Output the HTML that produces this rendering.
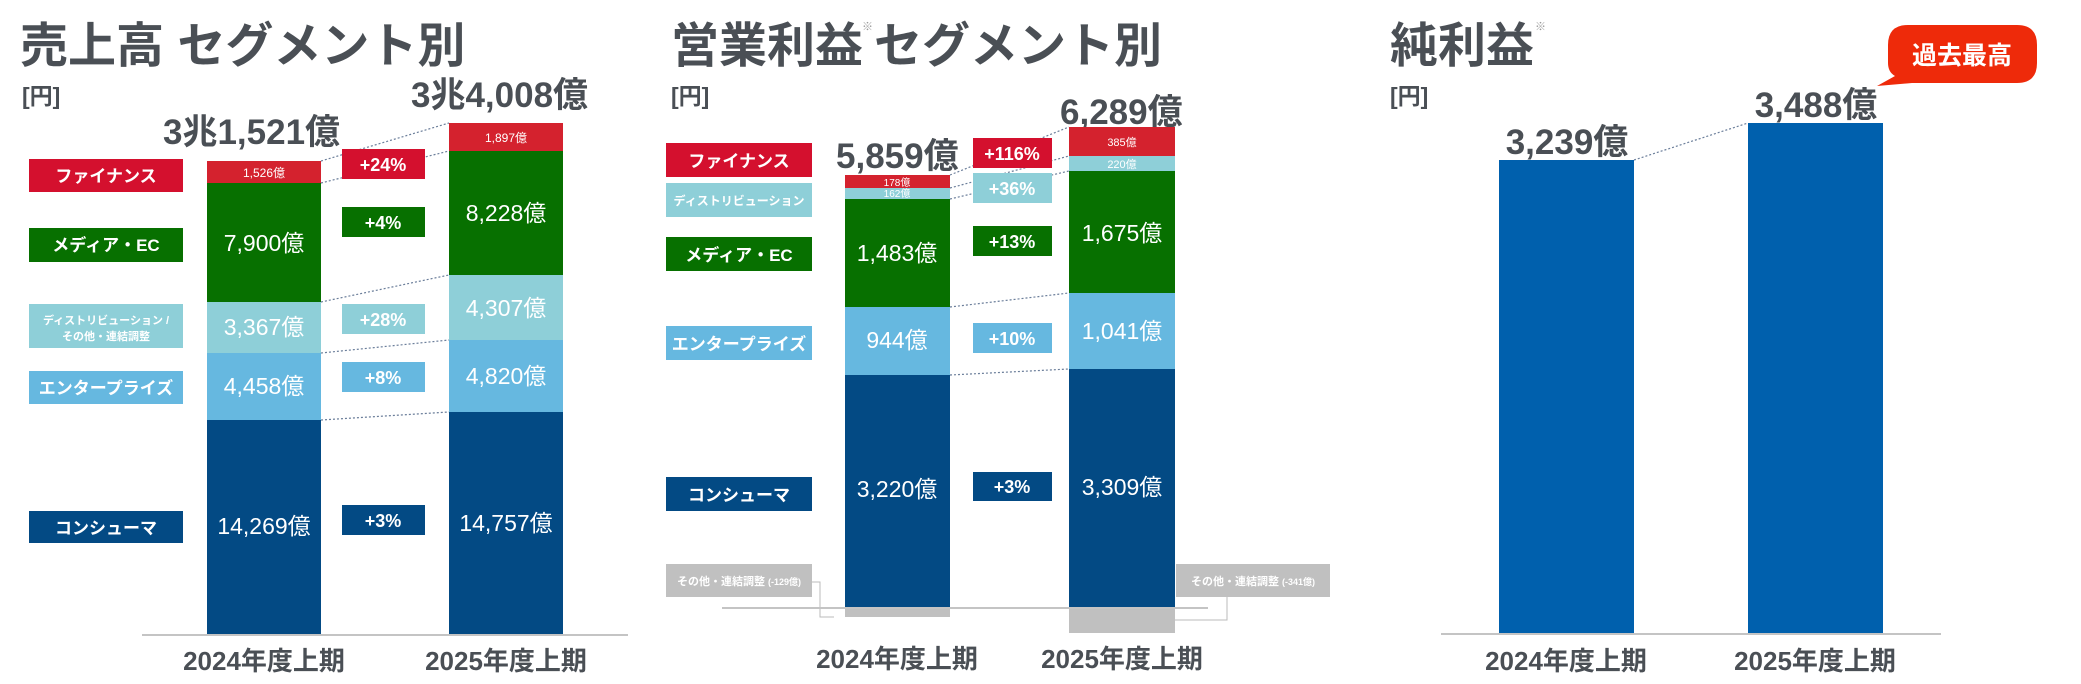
<!DOCTYPE html>
<html><head><meta charset="utf-8"><style>
html,body{margin:0;padding:0;background:#fff;}
svg{display:block;}
text{font-family:"Liberation Sans","Noto Sans CJK JP",sans-serif;}
.t{fill:#4a4f55;font-weight:bold;}
.w{fill:#fff;}
.b{font-weight:bold;}
</style></head><body>
<svg width="2081" height="684" viewBox="0 0 2081 684" xmlns="http://www.w3.org/2000/svg">
<g stroke="#6b7e9a" stroke-width="1.2" stroke-dasharray="2,2" fill="none">
<line x1="321" y1="161" x2="449" y2="123"/><line x1="321" y1="183" x2="449" y2="151"/>
<line x1="321" y1="302" x2="449" y2="275"/><line x1="321" y1="353" x2="449" y2="340"/>
<line x1="321" y1="420" x2="449" y2="412"/>
<line x1="950" y1="175" x2="1069" y2="127"/><line x1="950" y1="188" x2="1069" y2="156"/>
<line x1="950" y1="199" x2="1069" y2="171"/><line x1="950" y1="307" x2="1069" y2="293"/>
<line x1="950" y1="375" x2="1069" y2="369"/>
<line x1="1634" y1="160" x2="1748" y2="123"/>
</g>
<!-- Panel 1 -->
<text x="20" y="62" class="t" font-size="48">売上高 セグメント別</text>
<text x="22" y="104" class="t" font-size="23" font-weight="normal">[円]</text>
<text x="163" y="144" class="t" font-size="35">3兆1,521億</text>
<text x="411" y="107" class="t" font-size="35">3兆4,008億</text>
<rect x="29" y="159" width="154" height="33" fill="#d4102e"/>
<text x="106" y="182" class="w b" font-size="17" text-anchor="middle">ファイナンス</text>
<rect x="29" y="228" width="154" height="34" fill="#077000"/>
<text x="106" y="251" class="w b" font-size="17" text-anchor="middle">メディア・EC</text>
<rect x="29" y="304" width="154" height="44" fill="#8ecfd8"/>
<text x="106" y="324" class="w b" font-size="11" text-anchor="middle">ディストリビューション /</text>
<text x="106" y="340" class="w b" font-size="11" text-anchor="middle">その他・連結調整</text>
<rect x="29" y="371" width="154" height="33" fill="#66b8e0"/>
<text x="106" y="394" class="w b" font-size="17" text-anchor="middle">エンタープライズ</text>
<rect x="29" y="511" width="154" height="32" fill="#034a84"/>
<text x="106" y="534" class="w b" font-size="17" text-anchor="middle">コンシューマ</text>
<rect x="207" y="161" width="114" height="22" fill="#d4222e"/>
<rect x="207" y="183" width="114" height="119" fill="#077000"/>
<rect x="207" y="302" width="114" height="51" fill="#8ecfd8"/>
<rect x="207" y="353" width="114" height="67" fill="#66b8e0"/>
<rect x="207" y="420" width="114" height="215" fill="#034a84"/>
<text x="264" y="177" class="w" font-size="12" text-anchor="middle">1,526億</text>
<text x="264" y="251" class="w" font-size="23" text-anchor="middle">7,900億</text>
<text x="264" y="335" class="w" font-size="23" text-anchor="middle">3,367億</text>
<text x="264" y="394" class="w" font-size="23" text-anchor="middle">4,458億</text>
<text x="264" y="534" class="w" font-size="23" text-anchor="middle">14,269億</text>
<rect x="449" y="123" width="114" height="28" fill="#d4222e"/>
<rect x="449" y="151" width="114" height="124" fill="#077000"/>
<rect x="449" y="275" width="114" height="65" fill="#8ecfd8"/>
<rect x="449" y="340" width="114" height="72" fill="#66b8e0"/>
<rect x="449" y="412" width="114" height="223" fill="#034a84"/>
<text x="506" y="142" class="w" font-size="12" text-anchor="middle">1,897億</text>
<text x="506" y="221" class="w" font-size="23" text-anchor="middle">8,228億</text>
<text x="506" y="316" class="w" font-size="23" text-anchor="middle">4,307億</text>
<text x="506" y="384" class="w" font-size="23" text-anchor="middle">4,820億</text>
<text x="506" y="531" class="w" font-size="23" text-anchor="middle">14,757億</text>
<rect x="342" y="149" width="83" height="30" fill="#d4102e"/><text x="383" y="171" class="w b" font-size="18" text-anchor="middle">+24%</text>
<rect x="342" y="207" width="83" height="30" fill="#077000"/><text x="383" y="229" class="w b" font-size="18" text-anchor="middle">+4%</text>
<rect x="342" y="304" width="83" height="30" fill="#8ecfd8"/><text x="383" y="326" class="w b" font-size="18" text-anchor="middle">+28%</text>
<rect x="342" y="362" width="83" height="30" fill="#66b8e0"/><text x="383" y="384" class="w b" font-size="18" text-anchor="middle">+8%</text>
<rect x="342" y="505" width="83" height="30" fill="#034a84"/><text x="383" y="527" class="w b" font-size="18" text-anchor="middle">+3%</text>
<line x1="142" y1="635" x2="628" y2="635" stroke="#c4c4c4" stroke-width="2"/>
<text x="264" y="670" class="t" font-size="26" text-anchor="middle">2024年度上期</text>
<text x="506" y="670" class="t" font-size="26" text-anchor="middle">2025年度上期</text>
<!-- Panel 2 -->
<text x="671" y="62" class="t" font-size="48">営業利益</text>
<text x="862" y="30" fill="#999" font-size="11">※</text>
<text x="874" y="62" class="t" font-size="48">セグメント別</text>
<text x="671" y="104" class="t" font-size="23" font-weight="normal">[円]</text>
<text x="836" y="168" class="t" font-size="35">5,859億</text>
<text x="1060" y="124" class="t" font-size="35">6,289億</text>
<rect x="666" y="143" width="146" height="34" fill="#d4102e"/><text x="739" y="167" class="w b" font-size="17" text-anchor="middle">ファイナンス</text>
<rect x="666" y="183" width="146" height="34" fill="#8ecfd8"/><text x="739" y="205" class="w b" font-size="12" text-anchor="middle">ディストリビューション</text>
<rect x="666" y="237" width="146" height="34" fill="#077000"/><text x="739" y="261" class="w b" font-size="17" text-anchor="middle">メディア・EC</text>
<rect x="666" y="326" width="146" height="34" fill="#66b8e0"/><text x="739" y="350" class="w b" font-size="17" text-anchor="middle">エンタープライズ</text>
<rect x="666" y="477" width="146" height="34" fill="#034a84"/><text x="739" y="501" class="w b" font-size="17" text-anchor="middle">コンシューマ</text>
<rect x="666" y="564" width="146" height="33" fill="#c0c0c0"/><text x="739" y="585" class="w b" font-size="11" text-anchor="middle">その他・連結調整 <tspan font-size="9">(-129億)</tspan></text>
<rect x="1176" y="564" width="154" height="33" fill="#c0c0c0"/><text x="1253" y="585" class="w b" font-size="11" text-anchor="middle">その他・連結調整 <tspan font-size="9">(-341億)</tspan></text>
<polyline points="812,582 820,582 820,617 834,617" fill="none" stroke="#bbb" stroke-width="1"/>
<polyline points="1227,597 1227,620 1158,620" fill="none" stroke="#bbb" stroke-width="1"/>
<rect x="845" y="175" width="105" height="13" fill="#d4222e"/>
<rect x="845" y="188" width="105" height="11" fill="#8ecfd8"/>
<rect x="845" y="199" width="105" height="108" fill="#077000"/>
<rect x="845" y="307" width="105" height="68" fill="#66b8e0"/>
<rect x="845" y="375" width="105" height="232" fill="#034a84"/>
<rect x="845" y="607" width="105" height="10" fill="#c0c0c0"/>
<text x="897" y="186" class="w" font-size="10" text-anchor="middle">178億</text>
<text x="897" y="197" class="w" font-size="10" text-anchor="middle">162億</text>
<text x="897" y="261" class="w" font-size="23" text-anchor="middle">1,483億</text>
<text x="897" y="348" class="w" font-size="23" text-anchor="middle">944億</text>
<text x="897" y="497" class="w" font-size="23" text-anchor="middle">3,220億</text>
<rect x="1069" y="127" width="106" height="29" fill="#d4222e"/>
<rect x="1069" y="156" width="106" height="15" fill="#8ecfd8"/>
<rect x="1069" y="171" width="106" height="122" fill="#077000"/>
<rect x="1069" y="293" width="106" height="76" fill="#66b8e0"/>
<rect x="1069" y="369" width="106" height="238" fill="#034a84"/>
<rect x="1069" y="607" width="106" height="26" fill="#c0c0c0"/>
<text x="1122" y="146" class="w" font-size="11" text-anchor="middle">385億</text>
<text x="1122" y="168" class="w" font-size="11" text-anchor="middle">220億</text>
<text x="1122" y="241" class="w" font-size="23" text-anchor="middle">1,675億</text>
<text x="1122" y="339" class="w" font-size="23" text-anchor="middle">1,041億</text>
<text x="1122" y="495" class="w" font-size="23" text-anchor="middle">3,309億</text>
<rect x="973" y="138" width="79" height="30" fill="#d4102e"/><text x="1012" y="160" class="w b" font-size="18" text-anchor="middle">+116%</text>
<rect x="973" y="173" width="79" height="30" fill="#8ecfd8"/><text x="1012" y="195" class="w b" font-size="18" text-anchor="middle">+36%</text>
<rect x="973" y="226" width="79" height="30" fill="#077000"/><text x="1012" y="248" class="w b" font-size="18" text-anchor="middle">+13%</text>
<rect x="973" y="323" width="79" height="30" fill="#66b8e0"/><text x="1012" y="345" class="w b" font-size="18" text-anchor="middle">+10%</text>
<rect x="973" y="472" width="79" height="29" fill="#034a84"/><text x="1012" y="493" class="w b" font-size="18" text-anchor="middle">+3%</text>
<line x1="722" y1="608" x2="1208" y2="608" stroke="#c4c4c4" stroke-width="2"/>
<text x="897" y="668" class="t" font-size="26" text-anchor="middle">2024年度上期</text>
<text x="1122" y="668" class="t" font-size="26" text-anchor="middle">2025年度上期</text>
<!-- Panel 3 -->
<text x="1390" y="62" class="t" font-size="48">純利益</text>
<text x="1535" y="30" fill="#999" font-size="11">※</text>
<text x="1390" y="104" class="t" font-size="23" font-weight="normal">[円]</text>
<rect x="1499" y="160" width="135" height="474" fill="#0060ad"/>
<rect x="1748" y="123" width="135" height="511" fill="#0060ad"/>
<text x="1567" y="154" class="t" font-size="35" text-anchor="middle">3,239億</text>
<text x="1816" y="117" class="t" font-size="35" text-anchor="middle">3,488億</text>
<line x1="1441" y1="634" x2="1941" y2="634" stroke="#c4c4c4" stroke-width="2"/>
<text x="1566" y="670" class="t" font-size="26" text-anchor="middle">2024年度上期</text>
<text x="1815" y="670" class="t" font-size="26" text-anchor="middle">2025年度上期</text>
<path d="M1908,25 H2017 Q2037,25 2037,45 V63 Q2037,83 2017,83 H1912 L1877,86 L1895,76 Q1888,72 1888,63 V45 Q1888,25 1908,25 Z" fill="#ee2a0a"/>
<text x="1962" y="64" class="w b" font-size="25" text-anchor="middle">過去最高</text>
</svg>
</body></html>
